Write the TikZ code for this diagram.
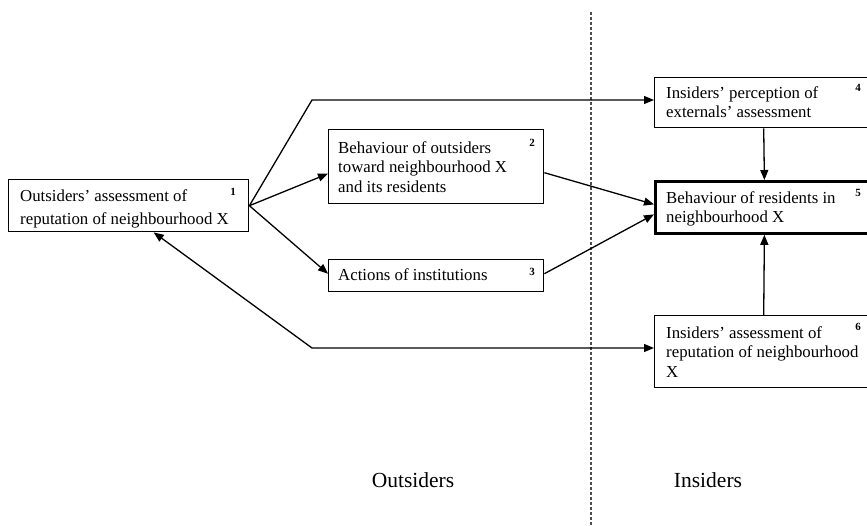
\documentclass[tikz,border=0pt]{standalone}
\usepackage{fontspec}
\setmainfont{Liberation Serif}
\usetikzlibrary{arrows.meta,calc}
\begin{document}
\begin{tikzpicture}[x=1pt,y=-1pt,
  box/.style={draw,line width=1.4pt,rectangle,anchor=north west,inner sep=0pt},
  thickbox/.style={box,line width=2.8pt},
  txt/.style={anchor=north west,inner sep=0pt,align=left,font=\fontsize{16.8}{19.5}\selectfont},
  num/.style={inner sep=0pt,font=\fontsize{11}{12}\selectfont\bfseries},
  conn/.style={line width=1.3pt},
  tip/.style={-{Triangle[length=10pt,width=8pt]}},
  lbl/.style={inner sep=0pt,font=\fontsize{21.5}{25}\selectfont}]
\useasboundingbox (0,0) rectangle (867,526);
\clip (0,0) rectangle (867,526);
% boxes
\node[box,minimum width=240pt,minimum height=52pt] (b1) at (8,179) {};
\node[box,minimum width=215pt,minimum height=74pt] (b2) at (328,129) {};
\node[box,minimum width=215pt,minimum height=32pt] (b3) at (328,259) {};
\node[box,minimum width=218pt,minimum height=50pt] (b4) at (654,77) {};
\node[thickbox,minimum width=218pt,minimum height=52pt] (b5) at (654,180) {};
\node[box,minimum width=218pt,minimum height=72pt] (b6) at (654,315) {};
% texts
\node[txt,font=\fontsize{16.8}{23}\selectfont] (t1) at ($(b1.north west)+(12,10)$) {Outsiders’ assessment of\\reputation of neighbourhood X};
\node[txt] (t2) at ($(b2.north west)+(10,12)$) {Behaviour of outsiders\\toward neighbourhood X\\and its residents};
\node[txt] (t3) at ($(b3.north west)+(10,9)$) {Actions of institutions};
\node[txt] (t4) at ($(b4.north west)+(12,9)$) {Insiders’ perception of\\externals’ assessment};
\node[txt] (t5) at ($(b5.north west)+(12,11)$) {Behaviour of residents in\\neighbourhood X};
\node[txt] (t6) at ($(b6.north west)+(12,11)$) {Insiders’ assessment of\\reputation of neighbourhood\\X};
% numbers
\node[num] (n1) at (233,192) {1};
\node[num] (n2) at (532,143) {2};
\node[num] (n3) at (532,272) {3};
\node[num] (n4) at (858,88) {4};
\node[num] (n5) at (858,193) {5};
\node[num] (n6) at (858,327) {6};
% divider
\coordinate (dtop) at (591,12);
\coordinate (dbot) at (591,526);
\draw[line width=1.3pt,dash pattern=on 3pt off 2pt,black!70] (dtop) -- (dbot);
% labels
\node[lbl] (out) at (413,480) {Outsiders};
\node[lbl] (ins) at (708,480) {Insiders};
% connectors
\coordinate (k1) at (312,100);
\coordinate (k2) at (312,348);
\draw[conn,tip] (b1.east) -- (k1) -- (b4.west|-k1);
\draw[conn,tip] (b1.east) -- ($(b2.west)+(0,7)$);
\draw[conn,tip] (b1.east) -- ($(b3.west)+(0,-2)$);
\draw[conn,tip] ($(b2.east)+(0,6)$) -- ($(b5.west)+(0,-3)$);
\draw[conn,tip] ($(b3.east)+(0,-2)$) -- ($(b5.west)+(0,7)$);
\draw[conn,tip] (b4.south) -- (b5.north);
\draw[conn,tip] (b6.north) -- (b5.south);
\draw[conn,{Triangle[length=10pt,width=8pt]}-{Triangle[length=10pt,width=8pt]}] ($(b1.south)+(25,0)$) -- (k2) -- (b6.west|-k2);
\end{tikzpicture}
\end{document}
